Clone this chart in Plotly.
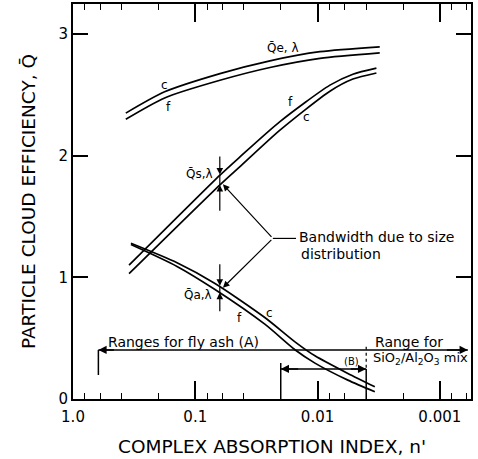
import math
import plotly.graph_objects as go

# ---------------- data ----------------
# extinction efficiency, coarse (c) and fine (f) size distributions
qe_n = [0.37, 0.178, 0.0628, 0.0245, 0.00955, 0.0031]
qe_c = [2.35, 2.525, 2.675, 2.78, 2.855, 2.895]
qe_f = [2.30, 2.475, 2.62, 2.725, 2.80, 2.845]

# scattering efficiency
qs_n = [0.348, 0.0628, 0.0431, 0.0203, 0.00792, 0.00514, 0.0033]
qs_f = [1.10, 1.84, 1.99, 2.28, 2.58, 2.67, 2.72]
qs_c = [1.03, 1.76, 1.91, 2.21, 2.53, 2.63, 2.68]

# absorption efficiency
qa_n = [0.336, 0.141, 0.069, 0.027, 0.0153, 0.0105, 0.00565, 0.0034]
qa_c = [1.28, 1.12, 0.95, 0.67, 0.47, 0.355, 0.21, 0.10]
qa_f = [1.27, 1.09, 0.90, 0.615, 0.405, 0.295, 0.155, 0.06]

x_tickvals = [1.0, 0.1, 0.01, 0.001]
x_ticktext = ["1.0", "0.1", "0.01", "0.001"]
x_minor = [0.8, 0.6, 0.4, 0.2, 0.08, 0.06, 0.04, 0.02,
           0.008, 0.006, 0.004, 0.002, 0.0008, 0.0006]
y_tickvals = [0, 1, 2, 3]

# ranges marked on the chart
flyash_range = [0.62, 0.00059]
range_b = [0.02, 0.004]

# ---------------------------------------------------------------
L = math.log10
FONT = "DejaVu Sans"
fig = go.Figure()

curve_line = dict(color="black", width=1.7, shape="spline", smoothing=0.7)
for n, q in [(qe_n, qe_c), (qe_n, qe_f), (qs_n, qs_c), (qs_n, qs_f),
             (qa_n, qa_c), (qa_n, qa_f)]:
    fig.add_trace(go.Scatter(x=n, y=q, mode="lines", line=curve_line,
                             hoverinfo="skip", showlegend=False))


def seg(xs, ys, dash="solid", width=1.4):
    fig.add_trace(go.Scatter(x=xs, y=ys, mode="lines",
                             line=dict(color="black", width=width, dash=dash),
                             hoverinfo="skip", showlegend=False))


# vertical bandwidth markers at n' ~ 0.063
xv = 0.063
seg([xv, xv], [1.845, 1.76], width=1.2)
seg([xv, xv], [0.93, 0.875], width=1.2)

# bandwidth leader lines
vx, vy = 0.0232, 1.32
seg([vx, 0.0150], [vy, vy], width=1.2)

# fly ash range
y_fa = 0.403
seg(flyash_range, [y_fa, y_fa], width=1.5)
seg([flyash_range[0], flyash_range[0]], [y_fa, 0.197], width=1.5)

# range B
y_b = 0.247
seg(range_b, [y_b, y_b], width=1.5)
seg([range_b[0], range_b[0]], [0.296, 0.0], width=1.5)
seg([range_b[1], range_b[1]], [y_b, 0.0], width=1.5)
seg([range_b[1], range_b[1]], [0.43, y_b], dash="dot", width=1.2)


def arrow(xh, yh, xt, yt, w=1.2):
    fig.add_annotation(x=L(xh), y=yh, ax=L(xt), ay=yt, xref="x", yref="y",
                       axref="x", ayref="y", text="", showarrow=True,
                       arrowhead=2, arrowsize=1.1, arrowwidth=w,
                       arrowcolor="black")


# vertical arrows
arrow(xv, 1.845, xv, 2.005)
arrow(xv, 1.76, xv, 1.535)
arrow(xv, 0.93, xv, 1.12)
arrow(xv, 0.875, xv, 0.71)
# bandwidth arrows
arrow(0.0594, 1.765, vx, vy)
arrow(0.0594, 0.915, vx, vy)
# range arrows
arrow(flyash_range[0], y_fa, 0.45, y_fa, 1.5)
arrow(flyash_range[1], y_fa, 0.0009, y_fa, 1.5)
arrow(range_b[0], y_b, 0.014, y_b, 1.5)
arrow(range_b[1], y_b, 0.0055, y_b, 1.5)


def label(x, y, text, size=13, xanchor="center"):
    fig.add_annotation(x=L(x), y=y, xref="x", yref="y", text=text,
                       showarrow=False, xanchor=xanchor, yanchor="middle",
                       font=dict(family=FONT, size=size, color="black"))


QB = "Q\u0304"
label(0.0192, 2.885, QB + "e, \u03bb", 12)
label(0.0916, 1.849, QB + "s,\u03bb", 12)
label(0.095, 0.855, QB + "a,\u03bb", 12)
label(0.177, 2.58, "c", 12)
label(0.167, 2.40, "f", 12)
label(0.0168, 2.44, "f", 12)
label(0.0122, 2.318, "c", 12)
label(0.0431, 0.666, "f", 12)
label(0.0245, 0.707, "c", 12)

label(0.01473, 1.331, "Bandwidth due to size", 14, "left")
label(0.0142, 1.19, "distribution", 14, "left")
label(0.537, 0.468, "Ranges for fly ash (A)", 14, "left")
label(0.00352, 0.468, "Range for", 14, "left")
label(0.00365, 0.337, "SiO<sub>2</sub>/Al<sub>2</sub>O<sub>3</sub> mix", 13, "left")
label(0.00523, 0.312, "(B)", 10)

fig.update_layout(
    width=478, height=459,
    margin=dict(l=73, r=7, t=4, b=60, autoexpand=False),
    paper_bgcolor="white", plot_bgcolor="white",
    font=dict(family=FONT, color="black"),
    showlegend=False,
    xaxis=dict(
        type="log", range=[0, -3.255], automargin=False,
        tickmode="array", tickvals=x_tickvals, ticktext=x_ticktext,
        ticks="inside", ticklen=18, tickwidth=1.8, tickcolor="black",
        minor=dict(tickmode="array", tickvals=x_minor, ticks="inside",
                   ticklen=6, tickwidth=1.4, tickcolor="black", showgrid=False),
        showline=True, linewidth=2, linecolor="black", mirror="ticks",
        showgrid=False, zeroline=False,
        tickfont=dict(family=FONT, size=15), ticklabelstandoff=3,
        title=dict(text="COMPLEX ABSORPTION INDEX, n'",
                   font=dict(family=FONT, size=18.5), standoff=15),
    ),
    yaxis=dict(
        range=[0, 3.247], automargin=False,
        tickmode="array", tickvals=y_tickvals,
        ticks="inside", ticklen=15, tickwidth=1.8, tickcolor="black",
        showline=True, linewidth=2, linecolor="black", mirror="ticks",
        showgrid=False, zeroline=False,
        tickfont=dict(family=FONT, size=15),
        title=dict(text="PARTICLE CLOUD EFFICIENCY, " + QB,
                   font=dict(family=FONT, size=18.5), standoff=18),
    ),
)

fig.write_html("out.html", config={"displayModeBar": False},
               post_script="document.body.style.margin='0';document.body.style.overflow='hidden';")
